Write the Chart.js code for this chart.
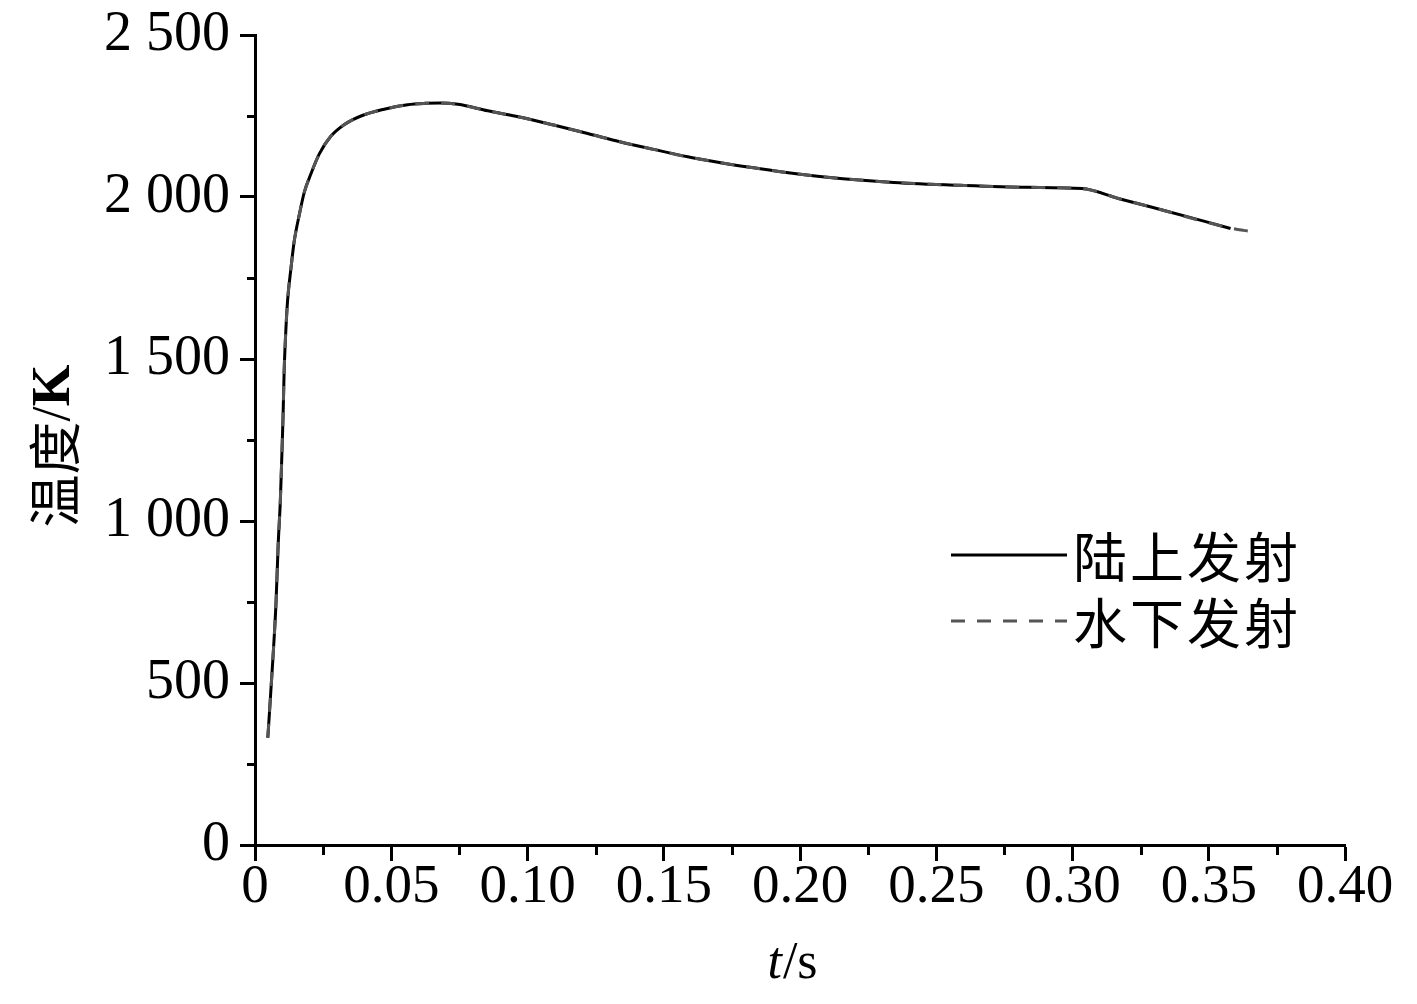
<!DOCTYPE html>
<html>
<head>
<meta charset="utf-8">
<script src="https://cdn.jsdelivr.net/npm/chart.js@4.4.1/dist/chart.umd.min.js"></script>
<style>
html,body{margin:0;padding:0;background:#fff;}
#wrap{width:1417px;height:1004px;}
</style>
</head>
<body>
<div id="wrap"><canvas id="c" width="1417" height="1004"></canvas></div>
<script>
// ---- data ----
const timeLand = [0.0047, 0.0065, 0.0077, 0.0085, 0.0093, 0.0098, 0.0103, 0.0107, 0.0114, 0.012, 0.0132, 0.0144, 0.0163, 0.0181, 0.0205, 0.0236, 0.0279, 0.0327, 0.0389, 0.0474, 0.056, 0.0625, 0.068, 0.0745, 0.0854, 0.0975, 0.1096, 0.1221, 0.1342, 0.1463, 0.1588, 0.1709, 0.183, 0.1929, 0.21, 0.2344, 0.2588, 0.2833, 0.3035, 0.3175, 0.3285, 0.358];
const tempLand = [331, 566, 745, 926, 1063, 1188, 1325, 1463, 1602, 1685, 1780, 1864, 1947, 2015, 2071, 2133, 2188, 2223, 2250, 2271, 2285, 2289, 2290, 2286, 2266, 2246, 2222, 2196, 2170, 2147, 2124, 2106, 2090, 2078, 2061, 2045, 2036, 2030, 2026, 1994, 1970, 1903];
const timeWater = [0.0047, 0.0065, 0.0077, 0.0085, 0.0093, 0.0098, 0.0103, 0.0107, 0.0114, 0.012, 0.0132, 0.0144, 0.0163, 0.0181, 0.0205, 0.0236, 0.0279, 0.0327, 0.0389, 0.0474, 0.056, 0.0625, 0.068, 0.0745, 0.0854, 0.0975, 0.1096, 0.1221, 0.1342, 0.1463, 0.1588, 0.1709, 0.183, 0.1929, 0.21, 0.2344, 0.2588, 0.2833, 0.3035, 0.3175, 0.3285, 0.358, 0.3627, 0.368];
const tempWater = [331, 566, 745, 926, 1063, 1188, 1325, 1463, 1602, 1685, 1780, 1864, 1947, 2015, 2071, 2133, 2188, 2223, 2250, 2271, 2285, 2289, 2290, 2286, 2266, 2246, 2222, 2196, 2170, 2147, 2124, 2106, 2090, 2078, 2061, 2045, 2036, 2030, 2026, 1994, 1970, 1904, 1897, 1891];
const seriesNames = ['陆上发射', '水下发射'];
const xTickValues = [0, 0.05, 0.10, 0.15, 0.20, 0.25, 0.30, 0.35, 0.40];
const xTickLabels = ['0', '0.05', '0.10', '0.15', '0.20', '0.25', '0.30', '0.35', '0.40'];
const xMinorTicks = [0.025, 0.075, 0.125, 0.175, 0.225, 0.275, 0.325, 0.375];
const yTickValues = [0, 500, 1000, 1500, 2000, 2500];
const yTickLabels = ['0', '500', '1 000', '1 500', '2 000', '2 500'];
const yMinorTicks = [250, 750, 1250, 1750, 2250];
const xTitleParts = ['t', '/s'];
const yTitleParts = ['温度', '/', 'K'];

const SERIF = '"Liberation Serif", "Times New Roman", serif';
const CJK = '"Noto Sans CJK SC", sans-serif';

const toPoints = (xs, ys) => xs.map((x, i) => ({ x: x, y: ys[i] }));

const decor = {
  id: 'decor',
  afterDraw(chart) {
    const ctx = chart.ctx;
    const xs = chart.scales.x, ys = chart.scales.y;
    const area = chart.chartArea;
    ctx.save();
    // minor ticks
    ctx.strokeStyle = '#000';
    ctx.lineWidth = 3;
    ctx.beginPath();
    xMinorTicks.forEach(v => {
      const px = Math.round(xs.getPixelForValue(v)) + 0.5;
      ctx.moveTo(px, area.bottom);
      ctx.lineTo(px, area.bottom + 10);
    });
    yMinorTicks.forEach(v => {
      const py = Math.round(ys.getPixelForValue(v)) + 0.5;
      ctx.moveTo(area.left, py);
      ctx.lineTo(area.left - 8, py);
    });
    ctx.stroke();

    // x title: italic t + /s
    ctx.fillStyle = '#000';
    ctx.textBaseline = 'alphabetic';
    const fItal = 'italic 52px ' + SERIF;
    const fNorm = '52px ' + SERIF;
    ctx.font = fItal; const w1 = ctx.measureText(xTitleParts[0]).width;
    ctx.font = fNorm; const w2 = ctx.measureText(xTitleParts[1]).width;
    const cx = (area.left + area.right) / 2 - 8;
    let sx = cx - (w1 + w2) / 2;
    ctx.textAlign = 'left';
    ctx.font = fItal; ctx.fillText(xTitleParts[0], sx, 978);
    ctx.font = fNorm; ctx.fillText(xTitleParts[1], sx + w1 + 1, 978);

    // y title: 温度/K rotated
    ctx.save();
    ctx.translate(53, 446);
    ctx.rotate(-Math.PI / 2);
    const fC = '53px ' + CJK, fS = '54px ' + SERIF, fB = 'bold 54px ' + SERIF;
    ctx.font = fC; const a = ctx.measureText(yTitleParts[0]).width;
    ctx.font = fS; const b = ctx.measureText(yTitleParts[1]).width;
    ctx.font = fB; const c = ctx.measureText(yTitleParts[2]).width;
    let tx = -(a + b + c) / 2;
    ctx.textBaseline = 'middle';
    ctx.font = fC; ctx.fillText(yTitleParts[0], tx, 2); tx += a;
    ctx.font = fS; ctx.fillText(yTitleParts[1], tx, 2); tx += b;
    ctx.font = fB; ctx.fillText(yTitleParts[2], tx, 2);
    ctx.restore();

    // legend
    const items = chart.data.datasets;
    const lx0 = 951, lx1 = 1067, tx0 = 1073;
    const rows = [555, 621];
    items.forEach((ds, i) => {
      ctx.beginPath();
      ctx.strokeStyle = ds.borderColor;
      ctx.lineWidth = 3;
      ctx.setLineDash(ds.borderDash || []);
      ctx.moveTo(lx0, rows[i]);
      ctx.lineTo(lx1, rows[i]);
      ctx.stroke();
      ctx.setLineDash([]);
      ctx.fillStyle = '#000';
      ctx.font = '54px ' + CJK;
      ctx.letterSpacing = '3px';
      ctx.textAlign = 'left';
      ctx.textBaseline = 'middle';
      ctx.fillText(ds.label, tx0, rows[i] + 2);
      ctx.letterSpacing = '0px';
    });
    ctx.restore();
  }
};

new Chart(document.getElementById('c').getContext('2d'), {
  type: 'line',
  data: {
    datasets: [
      {
        label: seriesNames[0],
        data: toPoints(timeLand, tempLand),
        borderColor: '#000000',
        borderWidth: 3,
        pointRadius: 0,
        fill: false,
        cubicInterpolationMode: 'monotone',
        order: 1
      },
      {
        label: seriesNames[1],
        data: toPoints(timeWater, tempWater),
        borderColor: '#555555',
        borderWidth: 3,
        borderDash: [14, 12],
        pointRadius: 0,
        fill: false,
        cubicInterpolationMode: 'monotone',
        order: 0
      }
    ]
  },
  options: {
    responsive: false,
    animation: false,
    devicePixelRatio: 1,
    layout: { padding: { left: 0, top: 35, right: 72, bottom: 0 } },
    plugins: { legend: { display: false }, tooltip: { enabled: false } },
    scales: {
      x: {
        type: 'linear',
        min: 0,
        max: 0.4,
        afterBuildTicks: s => { s.ticks = xTickValues.map(v => ({ value: v })); },
        afterFit: s => { s.height = 159; },
        ticks: {
          autoSkip: false,
          maxRotation: 0,
          padding: -6,
          color: '#000',
          font: { family: SERIF, size: 55 },
          callback: (v, i) => xTickLabels[i]
        },
        grid: { drawOnChartArea: false, drawTicks: true, tickLength: 16, tickWidth: 3, tickColor: '#000' },
        border: { display: true, color: '#000', width: 3 }
      },
      y: {
        type: 'linear',
        min: 0,
        max: 2500,
        afterBuildTicks: s => { s.ticks = yTickValues.map(v => ({ value: v })); },
        afterFit: s => { s.width = 255; s.paddingTop = 0; s.paddingBottom = 0; },
        ticks: {
          autoSkip: false,
          padding: 10,
          color: '#000',
          font: { family: SERIF, size: 56, lineHeight: 1 },
          callback: (v, i) => yTickLabels[i]
        },
        grid: { drawOnChartArea: false, drawTicks: true, tickLength: 15, tickWidth: 3, tickColor: '#000' },
        border: { display: true, color: '#000', width: 3 }
      }
    }
  },
  plugins: [decor]
});
</script>
</body>
</html>
